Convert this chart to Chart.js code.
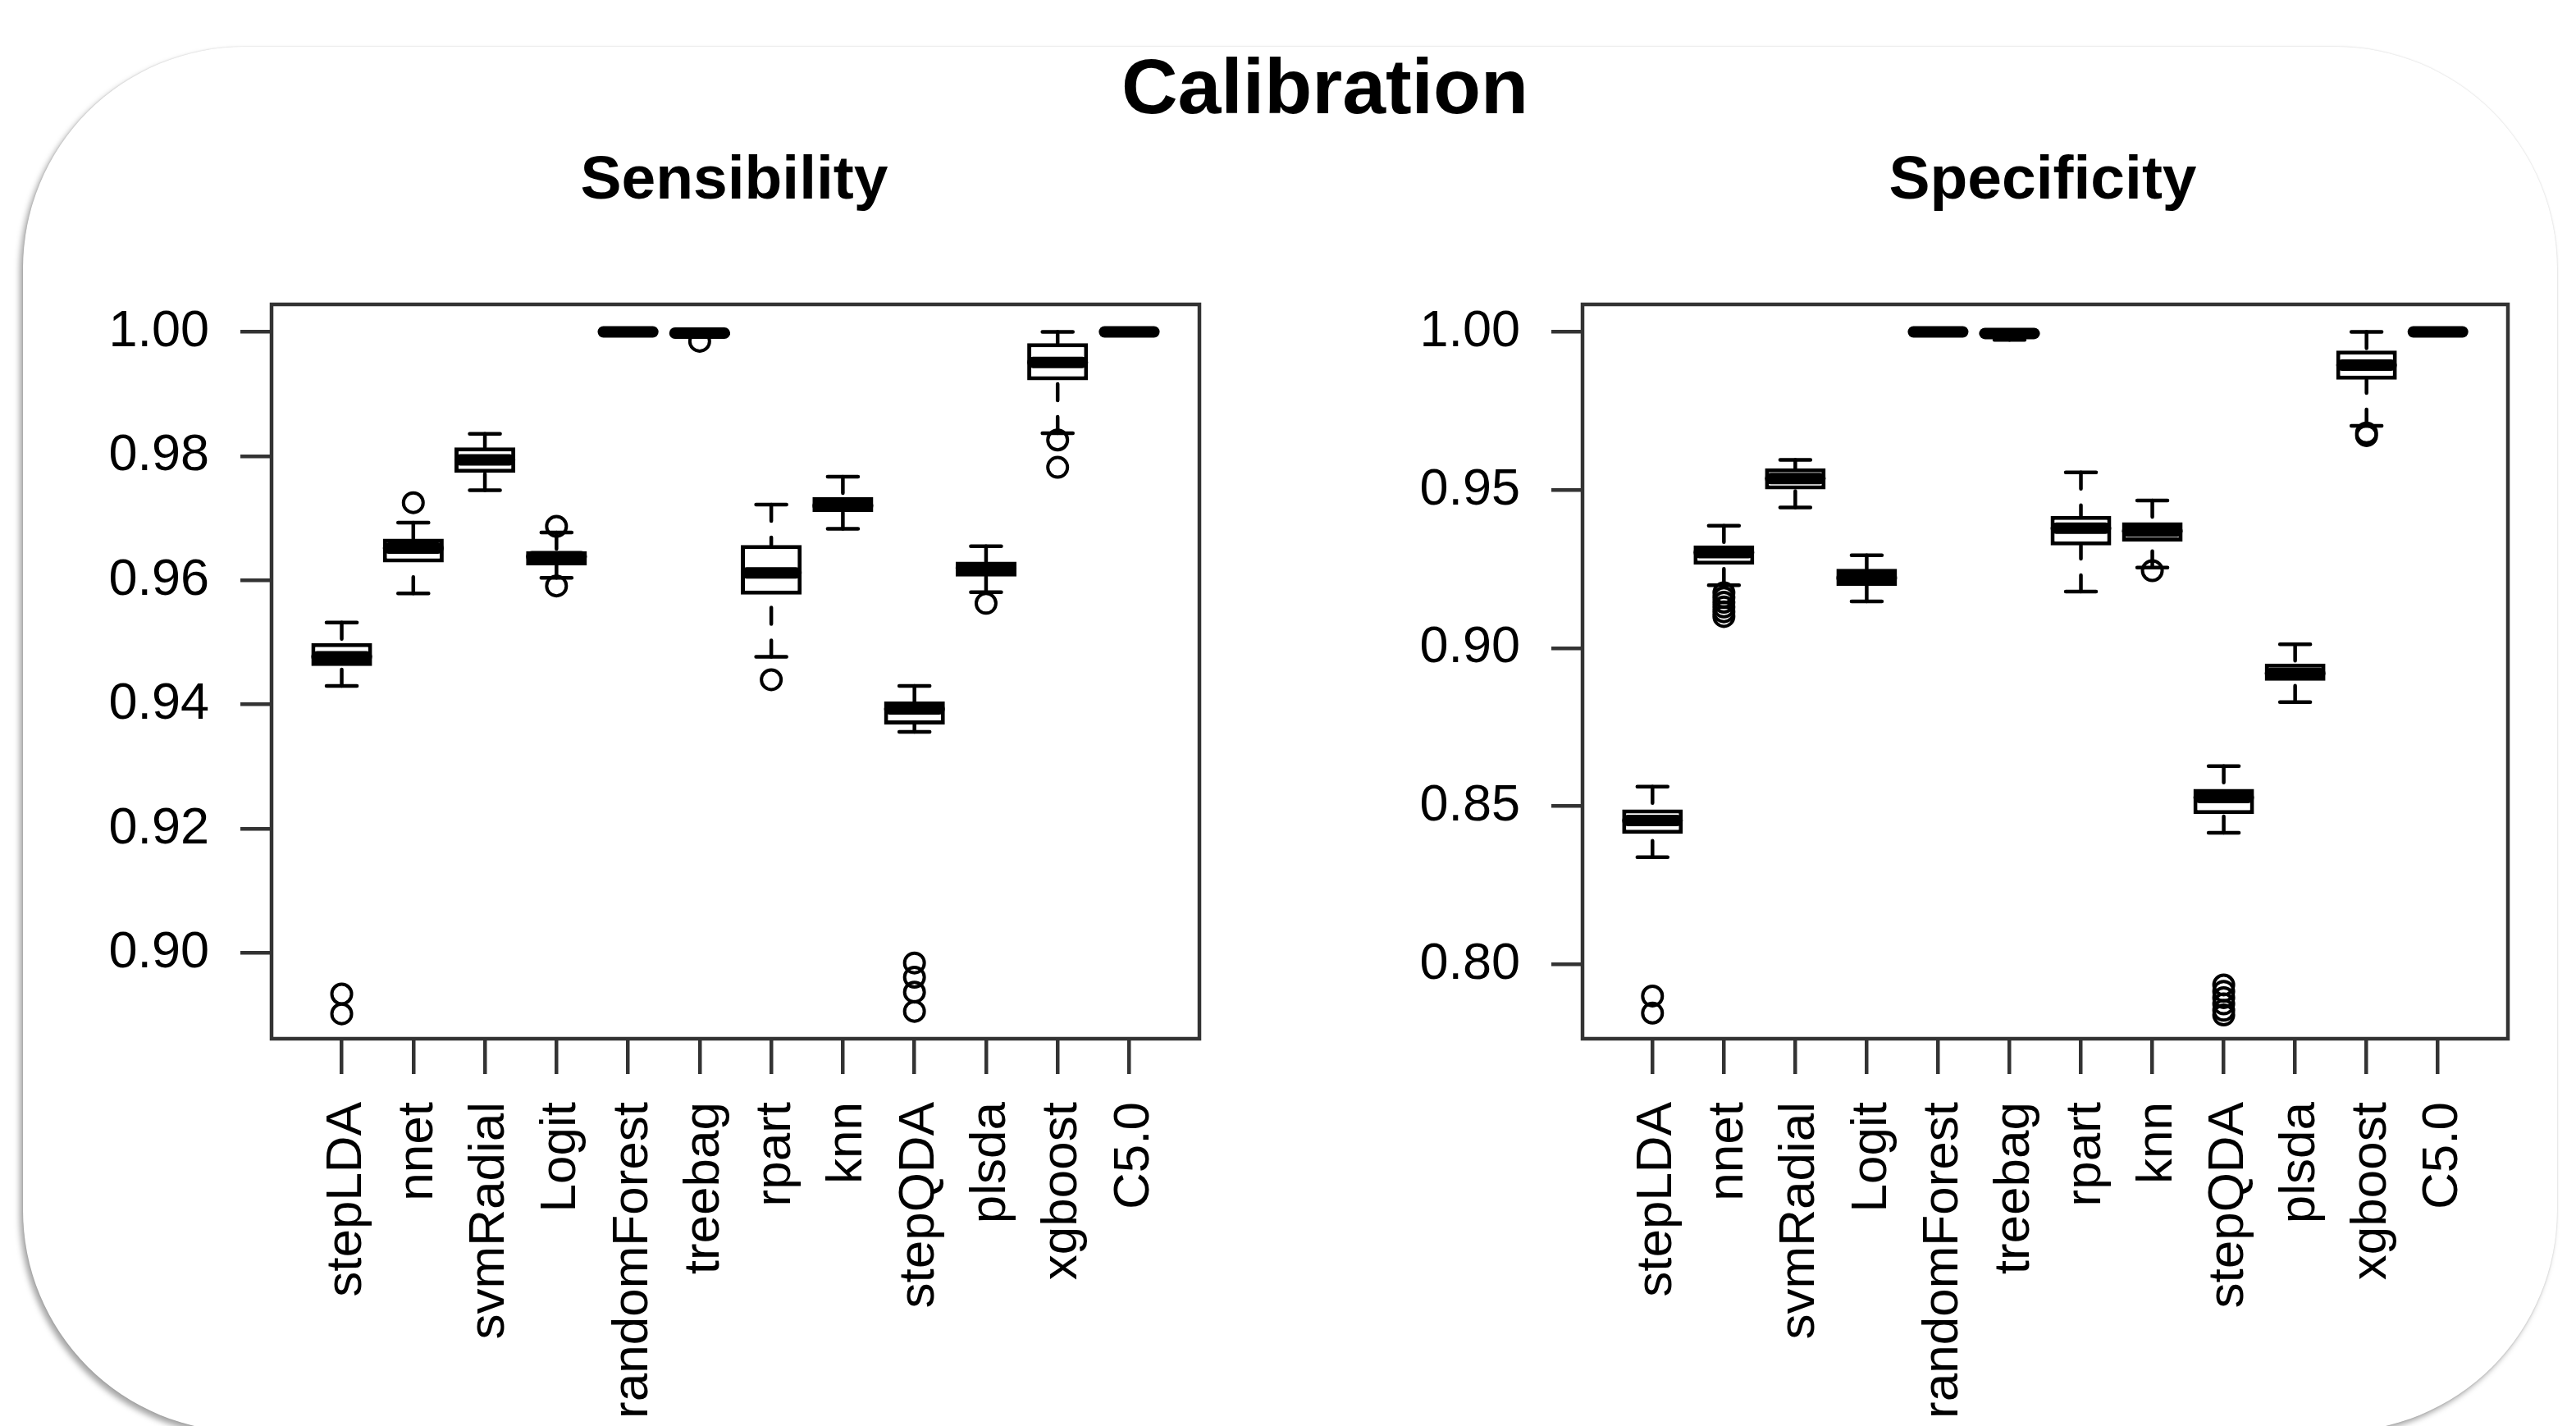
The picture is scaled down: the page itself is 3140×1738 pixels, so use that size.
<!DOCTYPE html>
<html>
<head>
<meta charset="utf-8">
<script src="https://cdn.jsdelivr.net/npm/chart.js@4"></script>
<style>
html, body { margin: 0; padding: 0; background: #fff; width: 3140px; height: 1738px; overflow: hidden; }
body { position: relative; font-family: "Liberation Sans", Arial, sans-serif; }
#panel {
    position: absolute; left: 28px; top: 57px; width: 3089px; height: 1688px;
    border-radius: 270px; background: #fff;
    box-shadow: -4px 5px 7px rgba(0,0,0,0.35), 0 0 2px rgba(0,0,0,0.18);
}
.title { position: absolute; font-weight: bold; color: #000; white-space: nowrap; line-height: 1; transform: translateX(-50%); }
.wrap { position: absolute; top: 300px; }
</style>
</head>
<body>
<div id="panel"></div>
<div class="title" style="left:1615px; top:58px; font-size:95px;">Calibration</div>
<div class="title" style="left:895px; top:179px; font-size:75px;">Sensibility</div>
<div class="title" style="left:2490px; top:179px; font-size:75px;">Specificity</div>
<div class="wrap" style="left:60px;"><canvas id="sens" width="1460" height="1438"></canvas></div>
<div class="wrap" style="left:1660px;"><canvas id="spec" width="1460" height="1438"></canvas></div>
<script>
const models = ["stepLDA", "nnet", "svmRadial", "Logit", "randomForest", "treebag",
    "rpart", "knn", "stepQDA", "plsda", "xgboost", "C5.0"];

// [lower whisker, Q1, median, Q3, upper whisker]
const sensStats = [
    [0.9430, 0.9462, 0.9477, 0.9499, 0.9532],
    [0.9579, 0.9629, 0.9652, 0.9667, 0.9693],
    [0.9745, 0.9773, 0.9794, 0.9814, 0.9836],
    [0.9604, 0.9624, 0.9638, 0.9647, 0.9677],
    [1.0000, 1.0000, 1.0000, 1.0000, 1.0000],
    [0.9993, 0.9995, 0.9998, 1.0000, 1.0000],
    [0.9477, 0.9577, 0.9612, 0.9657, 0.9722],
    [0.9683, 0.9710, 0.9720, 0.9734, 0.9767],
    [0.9356, 0.9368, 0.9393, 0.9405, 0.9430],
    [0.9581, 0.9606, 0.9620, 0.9630, 0.9655],
    [0.9837, 0.9922, 0.9951, 0.9982, 1.0000],
    [1.0000, 1.0000, 1.0000, 1.0000, 1.0000],
];
const sensOutliers = [
    [0.8934, 0.8902], [0.9725], [], [0.9687, 0.9591], [], [0.9985],
    [0.9440], [], [0.8984, 0.8961, 0.8937, 0.8906], [0.9563], [0.9826, 0.9782], [],
];

const specStats = [
    [0.8339, 0.8413, 0.8455, 0.8490, 0.8562],
    [0.9199, 0.9264, 0.9302, 0.9325, 0.9387],
    [0.9445, 0.9502, 0.9536, 0.9569, 0.9595],
    [0.9148, 0.9197, 0.9222, 0.9251, 0.9294],
    [1.0000, 1.0000, 1.0000, 1.0000, 1.0000],
    [0.9975, 0.9990, 0.9995, 1.0000, 1.0000],
    [0.9179, 0.9325, 0.9379, 0.9418, 0.9556],
    [0.9255, 0.9337, 0.9370, 0.9398, 0.9467],
    [0.8416, 0.8475, 0.8528, 0.8555, 0.8627],
    [0.8829, 0.8897, 0.8920, 0.8951, 0.9012],
    [0.9703, 0.9849, 0.9895, 0.9941, 1.0000],
    [1.0000, 1.0000, 1.0000, 1.0000, 1.0000],
];
const specOutliers = [
    [0.7900, 0.7846], [0.9175, 0.9160, 0.9145, 0.9130, 0.9115, 0.9100], [], [], [], [],
    [], [0.9245], [0.7935, 0.7915, 0.7895, 0.7875, 0.7855, 0.7840], [], [0.9680, 0.9672], [],
];

const sensTicks = [0.90, 0.92, 0.94, 0.96, 0.98, 1.00];
const specTicks = [0.80, 0.85, 0.90, 0.95, 1.00];

Chart.defaults.font.family = "'Liberation Sans', Arial, sans-serif";

// whiskers, caps, medians and the plot frame, placed through the chart's scales
const boxplot = {
    id: "boxplot",
    afterDatasetsDraw(chart, args, opts) {
        const { ctx, chartArea, scales } = chart;
        const xs = scales.x, ys = scales.y;
        const bars = chart.getDatasetMeta(0).data;
        ctx.save();
        ctx.strokeStyle = "#000";
        ctx.lineCap = "round";
        opts.stats.forEach((s, i) => {
            const cx = xs.getPixelForValue(i + 1);
            const half = bars[i].width / 2;
            const [lw, q1, med, q3, uw] = s.map((v) => ys.getPixelForValue(v));
            ctx.lineWidth = 4.5;
            ctx.setLineDash([20, 20]);
            ctx.beginPath();
            if (lw - q1 > 1) { ctx.moveTo(cx, lw); ctx.lineTo(cx, q1); }
            if (q3 - uw > 1) { ctx.moveTo(cx, uw); ctx.lineTo(cx, q3); }
            ctx.stroke();
            ctx.setLineDash([]);
            ctx.beginPath();
            ctx.moveTo(cx - half / 2, lw); ctx.lineTo(cx + half / 2, lw);
            ctx.moveTo(cx - half / 2, uw); ctx.lineTo(cx + half / 2, uw);
            ctx.stroke();
            ctx.lineWidth = 14;
            ctx.beginPath();
            ctx.moveTo(cx - half + 7, med); ctx.lineTo(cx + half - 7, med);
            ctx.stroke();
        });
        ctx.lineWidth = 4.5;
        ctx.strokeStyle = "#333";
        ctx.strokeRect(chartArea.left, chartArea.top,
            chartArea.right - chartArea.left, chartArea.bottom - chartArea.top);
        ctx.restore();
    },
};

function makeChart(id, stats, outliers, yMin, yMax, yTicks, yWidth, padRight) {
    const boxes = stats.map((s, i) => ({ x: i + 1, y: [s[1], s[3]] }));
    const points = [];
    outliers.forEach((list, i) => list.forEach((v) => points.push({ x: i + 1, y: v })));
    return new Chart(document.getElementById(id), {
        type: "bar",
        data: {
            datasets: [
                {
                    type: "bar",
                    data: boxes,
                    backgroundColor: "#fff",
                    borderColor: "#000",
                    borderWidth: 5,
                    borderSkipped: false,
                    barPercentage: 0.85,
                    categoryPercentage: 1,
                },
                {
                    type: "scatter",
                    data: points,
                    pointRadius: 12,
                    pointBorderWidth: 4,
                    borderColor: "#000",
                    backgroundColor: "rgba(0,0,0,0)",
                },
            ],
        },
        options: {
            responsive: false,
            animation: false,
            layout: { padding: { top: 71, right: padRight, bottom: 0, left: 0 } },
            plugins: {
                legend: { display: false },
                tooltip: { enabled: false },
                boxplot: { stats: stats },
            },
            scales: {
                x: {
                    type: "linear",
                    offset: false,
                    min: 0.02,
                    max: 12.98,
                    afterBuildTicks: (s) => { s.ticks = models.map((m, i) => ({ value: i + 1 })); },
                    afterFit: (s) => { s.height = 472; s.paddingLeft = 0; s.paddingRight = 0; },
                    grid: { offset: false, drawOnChartArea: false, tickLength: 43, color: "#333", lineWidth: 4.5 },
                    border: { display: false },
                    ticks: {
                        autoSkip: false,
                        minRotation: 90,
                        maxRotation: 90,
                        padding: 34,
                        labelOffset: 6,
                        color: "#000",
                        font: { size: 62 },
                        callback: (v) => models[Math.round(v) - 1],
                    },
                },
                y: {
                    min: yMin,
                    max: yMax,
                    afterBuildTicks: (s) => { s.ticks = yTicks.map((v) => ({ value: v })); },
                    afterFit: (s) => { s.width = yWidth; s.paddingTop = 0; s.paddingBottom = 0; },
                    grid: { drawOnChartArea: false, tickLength: 38, color: "#333", lineWidth: 4.5 },
                    border: { display: false },
                    ticks: {
                        padding: 38,
                        color: "#000",
                        font: { size: 63 },
                        callback: (v) => v.toFixed(2),
                    },
                },
            },
        },
        plugins: [boxplot],
    });
}

makeChart("sens", sensStats, sensOutliers, 0.8862, 1.00443, sensTicks, 271, 58);
makeChart("spec", specStats, specOutliers, 0.7765, 1.00869, specTicks, 269, 63);
</script>
</body>
</html>
